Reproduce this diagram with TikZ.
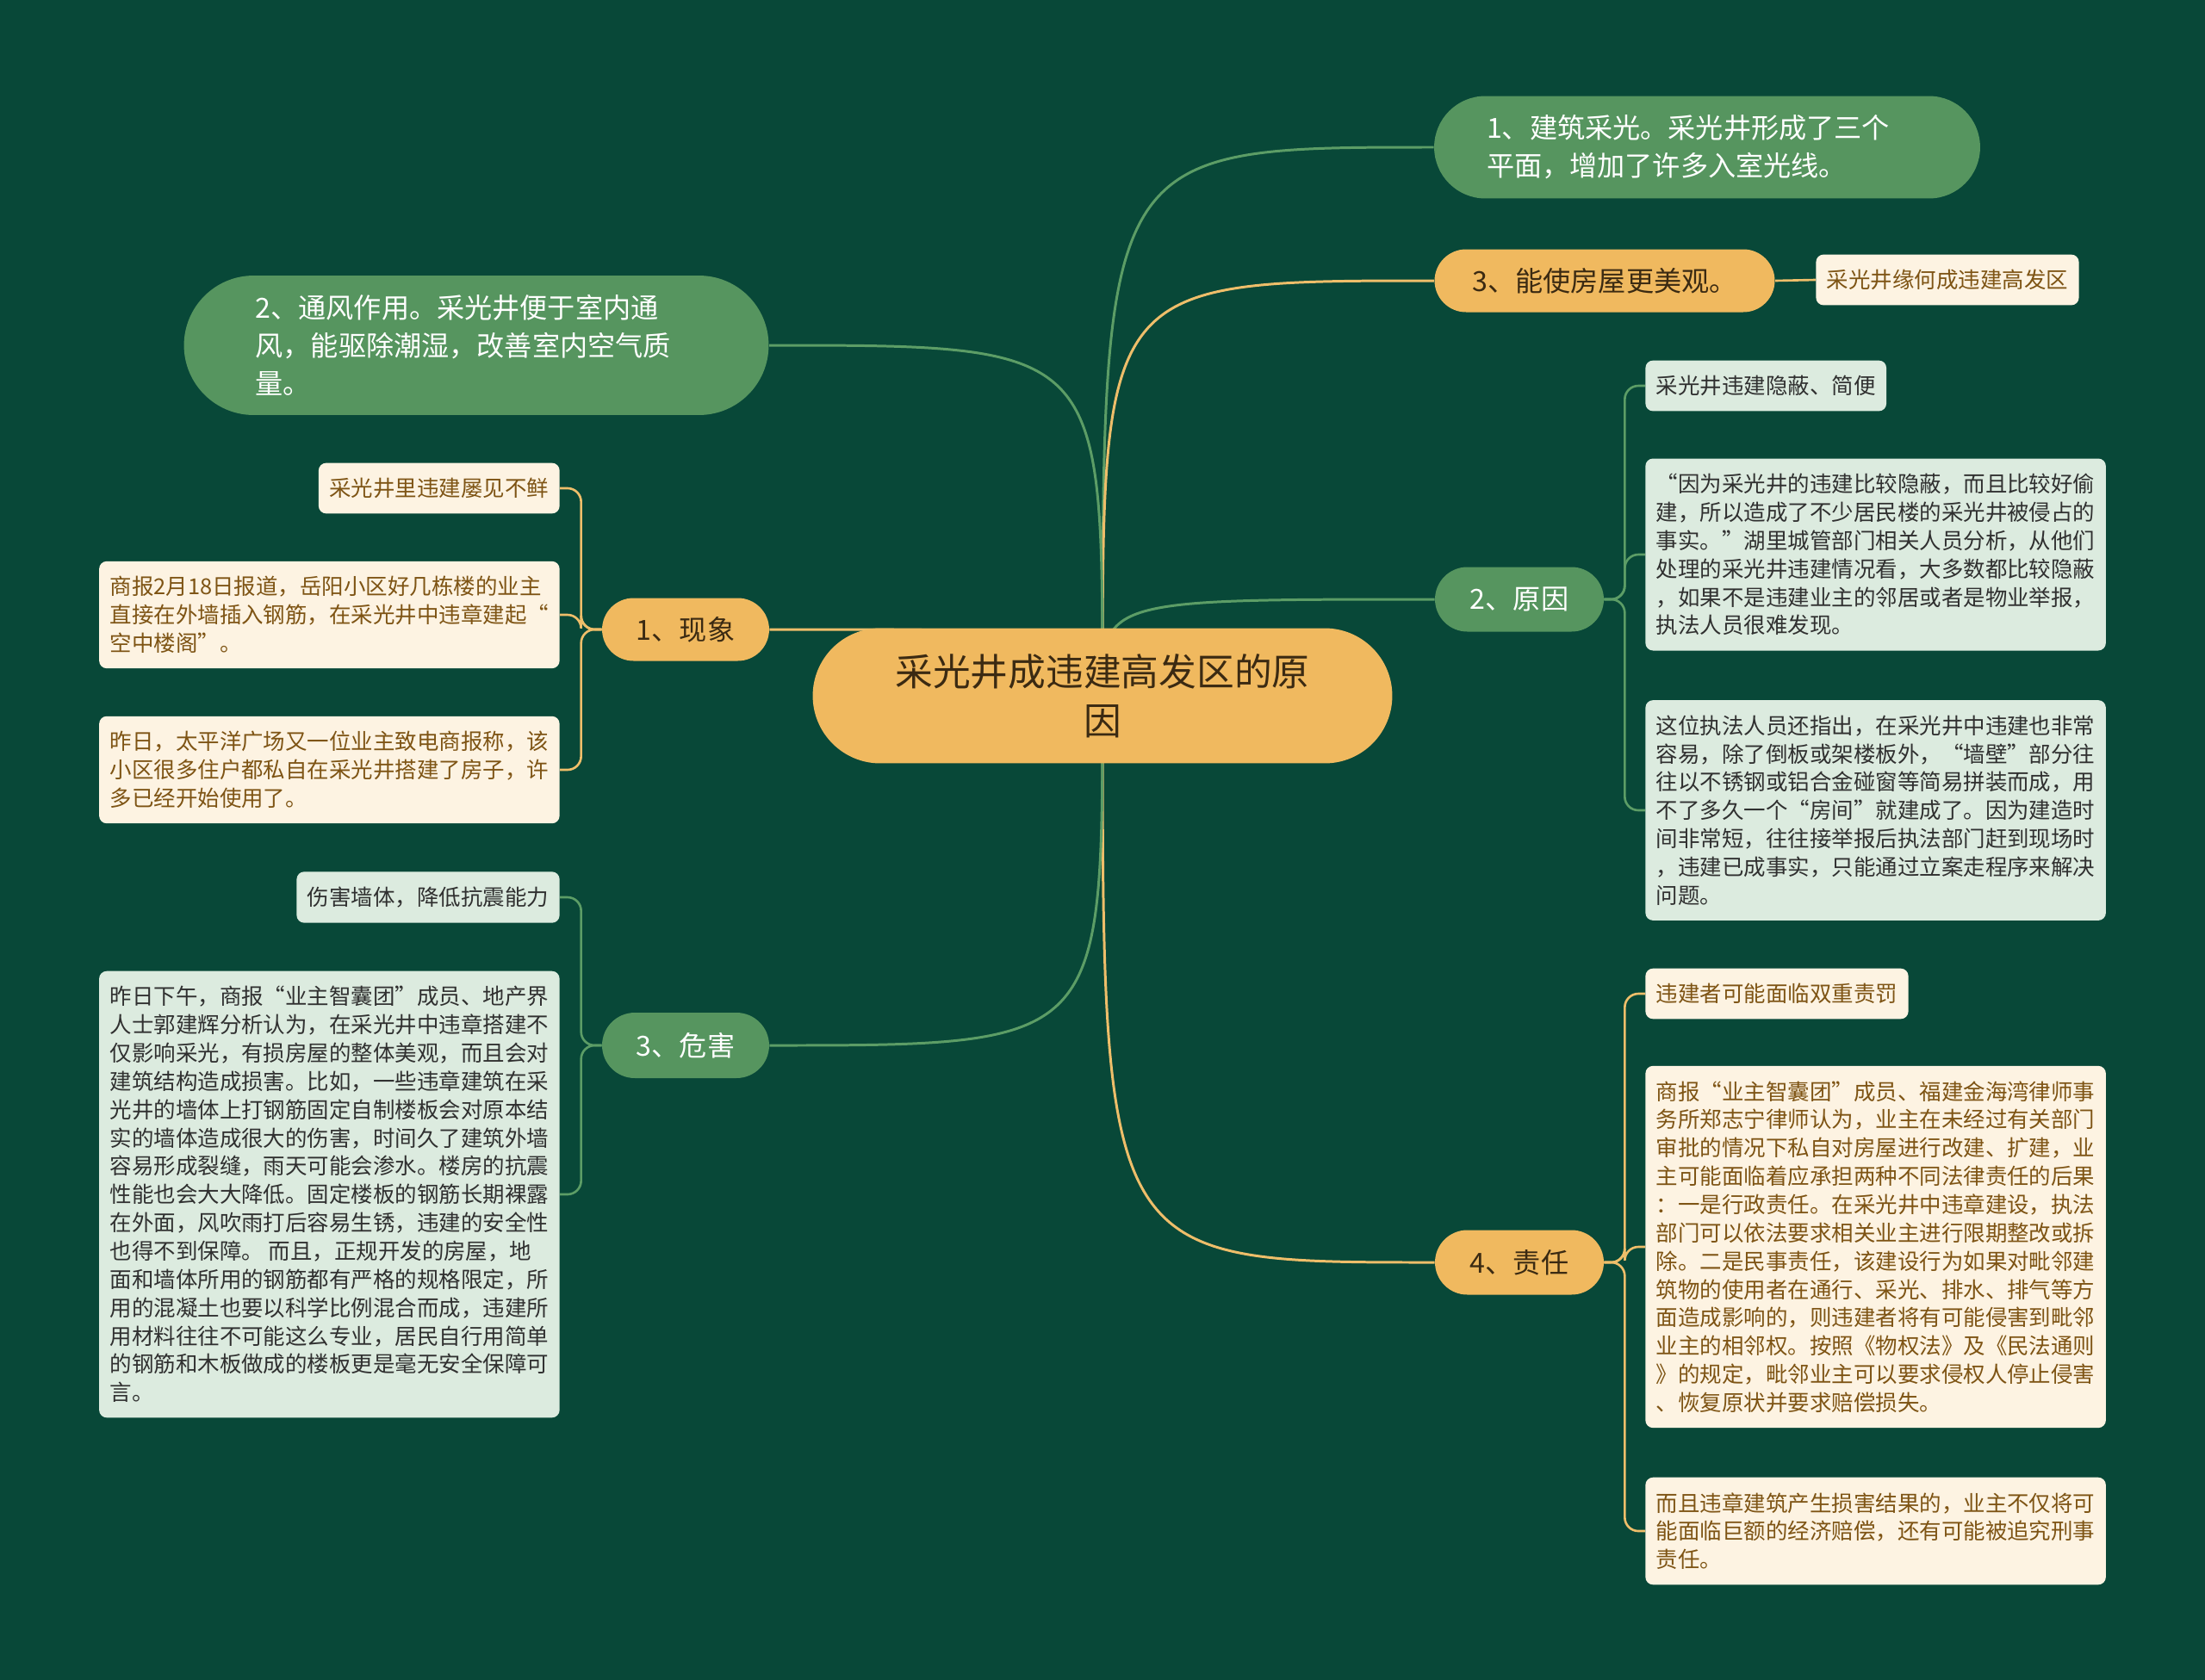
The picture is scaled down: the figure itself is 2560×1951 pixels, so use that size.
\documentclass[tikz,border=0pt]{standalone}
\usepackage{fontspec}
\setmainfont{Noto Sans CJK SC}
\usetikzlibrary{shapes.misc,backgrounds}
\definecolor{bg}{HTML}{084838}
\definecolor{pillgreen}{HTML}{56955F}
\definecolor{pillorange}{HTML}{F0B95F}
\definecolor{leafgreen}{HTML}{DCEBDF}
\definecolor{leafcream}{HTML}{FDF3E2}
\definecolor{linegreen}{HTML}{5C9D66}
\definecolor{lineorange}{HTML}{EEBE6A}
\definecolor{browntext}{HTML}{7E5414}
\definecolor{darkbrown}{HTML}{3B2A12}
\definecolor{darktext}{HTML}{303030}
\begin{document}
\begin{tikzpicture}[x=0.02cm, y=-0.02cm,
  root/.style={rounded rectangle, fill=pillorange, text=darkbrown, align=center,
    minimum width=13.46cm, minimum height=3.14cm, inner sep=0pt,
    font=\fontsize{24.9pt}{32.3pt}\selectfont},
  pill/.style={rounded rectangle, align=left, inner sep=0pt,
    font=\fontsize{18.3pt}{24.9pt}\selectfont},
  gpill/.style={pill, fill=pillgreen, text=white},
  opill/.style={pill, fill=pillorange, text=darkbrown},
  leaf/.style={rounded corners=5pt, align=left, inner xsep=2.5mm, inner ysep=3.5mm,
    font=\fontsize{14.5pt}{18.7pt}\selectfont},
  gleaf/.style={leaf, fill=leafgreen, text=darktext},
  oleaf/.style={leaf, fill=leafcream, text=browntext},
  twig/.style={line width=1.5pt, rounded corners=9pt},
  limb/.style={line width=1.7pt}]
  \useasboundingbox (0,0) rectangle (2560,1951);

  % centre
  \node[root] (root) at (1280,808) {采光井成违建高发区的原\\因};

  % right side
  \node[gpill, text width=10.24cm, minimum width=12.68cm, minimum height=2.38cm] (light) at (1982,171)
    {1、建筑采光。采光井形成了三个\\平面，增加了许多入室光线。};
  \node[opill, minimum width=7.9cm, minimum height=1.46cm] (look) at (1863,326) {3、能使房屋更美观。};
  \node[oleaf, anchor=west] (look1) at (2108,325) {采光井缘何成违建高发区};

  \node[gpill, minimum width=3.92cm, minimum height=1.5cm] (why) at (1764,696) {2、原因};
  \node[gleaf, anchor=west] (why1) at (1910,448) {采光井违建隐蔽、简便};
  \node[gleaf, anchor=west] (why2) at (1910,644)
    {“因为采光井的违建比较隐蔽，而且比较好偷\\建，所以造成了不少居民楼的采光井被侵占的\\事实。”湖里城管部门相关人员分析，从他们\\处理的采光井违建情况看，大多数都比较隐蔽\\，如果不是违建业主的邻居或者是物业举报，\\执法人员很难发现。};
  \node[gleaf, anchor=west] (why3) at (1910,941)
    {这位执法人员还指出，在采光井中违建也非常\\容易，除了倒板或架楼板外，“墙壁”部分往\\往以不锈钢或铝合金碰窗等简易拼装而成，用\\不了多久一个“房间”就建成了。因为建造时\\间非常短，往往接举报后执法部门赶到现场时\\，违建已成事实，只能通过立案走程序来解决\\问题。};

  \node[opill, minimum width=3.92cm, minimum height=1.5cm] (duty) at (1764,1466) {4、责任};
  \node[oleaf, anchor=west] (duty1) at (1910,1154) {违建者可能面临双重责罚};
  \node[oleaf, anchor=west] (duty2) at (1910,1448)
    {商报“业主智囊团”成员、福建金海湾律师事\\务所郑志宁律师认为，业主在未经过有关部门\\审批的情况下私自对房屋进行改建、扩建，业\\主可能面临着应承担两种不同法律责任的后果\\：一是行政责任。在采光井中违章建设，执法\\部门可以依法要求相关业主进行限期整改或拆\\除。二是民事责任，该建设行为如果对毗邻建\\筑物的使用者在通行、采光、排水、排气等方\\面造成影响的，则违建者将有可能侵害到毗邻\\业主的相邻权。按照《物权法》及《民法通则\\》的规定，毗邻业主可以要求侵权人停止侵害\\、恢复原状并要求赔偿损失。};
  \node[oleaf, anchor=west] (duty3) at (1910,1778)
    {而且违章建筑产生损害结果的，业主不仅将可\\能面临巨额的经济赔偿，还有可能被追究刑事\\责任。};

  % left side
  \node[gpill, text width=10.26cm, minimum width=13.58cm, minimum height=3.24cm] (air) at (553,401)
    {2、通风作用。采光井便于室内通\\风，能驱除潮湿，改善室内空气质\\量。};

  \node[opill, minimum width=3.88cm, minimum height=1.46cm] (now) at (796,731) {1、现象};
  \node[oleaf, anchor=east] (now1) at (650,567) {采光井里违建屡见不鲜};
  \node[oleaf, anchor=east] (now2) at (650,714)
    {商报2月18日报道，岳阳小区好几栋楼的业主\\直接在外墙插入钢筋，在采光井中违章建起“\\空中楼阁”。};
  \node[oleaf, anchor=east] (now3) at (650,894)
    {昨日，太平洋广场又一位业主致电商报称，该\\小区很多住户都私自在采光井搭建了房子，许\\多已经开始使用了。};

  \node[gpill, minimum width=3.88cm, minimum height=1.52cm] (harm) at (796,1214) {3、危害};
  \node[gleaf, anchor=east] (harm1) at (650,1042) {伤害墙体，降低抗震能力};
  \node[gleaf, anchor=east] (harm2) at (650,1387)
    {昨日下午，商报“业主智囊团”成员、地产界\\人士郭建辉分析认为，在采光井中违章搭建不\\仅影响采光，有损房屋的整体美观，而且会对\\建筑结构造成损害。比如，一些违章建筑在采\\光井的墙体上打钢筋固定自制楼板会对原本结\\实的墙体造成很大的伤害，时间久了建筑外墙\\容易形成裂缝，雨天可能会渗水。楼房的抗震\\性能也会大大降低。固定楼板的钢筋长期裸露\\在外面，风吹雨打后容易生锈，违建的安全性\\也得不到保障。 而且，正规开发的房屋，地\\面和墙体所用的钢筋都有严格的规格限定，所\\用的混凝土也要以科学比例混合而成，违建所\\用材料往往不可能这么专业，居民自行用简单\\的钢筋和木板做成的楼板更是毫无安全保障可\\言。};

  \begin{pgfonlayer}{background}
    \fill[bg] (0,0) rectangle (2560,1951);
    % limbs from the centre
    \foreach \c in {light,why}
      \draw[limb, linegreen] (root.center) .. controls (root.center |- \c.west) .. (\c.west);
    \foreach \c in {look,duty}
      \draw[limb, lineorange] (root.center) .. controls (root.center |- \c.west) .. (\c.west);
    \foreach \c in {air,harm}
      \draw[limb, linegreen] (root.center) .. controls (root.center |- \c.east) .. (\c.east);
    \draw[limb, lineorange] (root.center) .. controls (root.center |- now.east) .. (now.east);
    % twigs to the leaves
    \draw[twig, lineorange] (look.east) -- (look1.west);
    \foreach \l in {why1,why2,why3}
      \draw[twig, linegreen] (why.east) -- ++(24,0) |- (\l.west);
    \foreach \l in {duty1,duty2,duty3}
      \draw[twig, lineorange] (duty.east) -- ++(24,0) |- (\l.west);
    \foreach \l in {now1,now2,now3}
      \draw[twig, lineorange] (now.west) -- ++(-24,0) |- (\l.east);
    \foreach \l in {harm1,harm2}
      \draw[twig, linegreen] (harm.west) -- ++(-24,0) |- (\l.east);
  \end{pgfonlayer}
\end{tikzpicture}
\end{document}
